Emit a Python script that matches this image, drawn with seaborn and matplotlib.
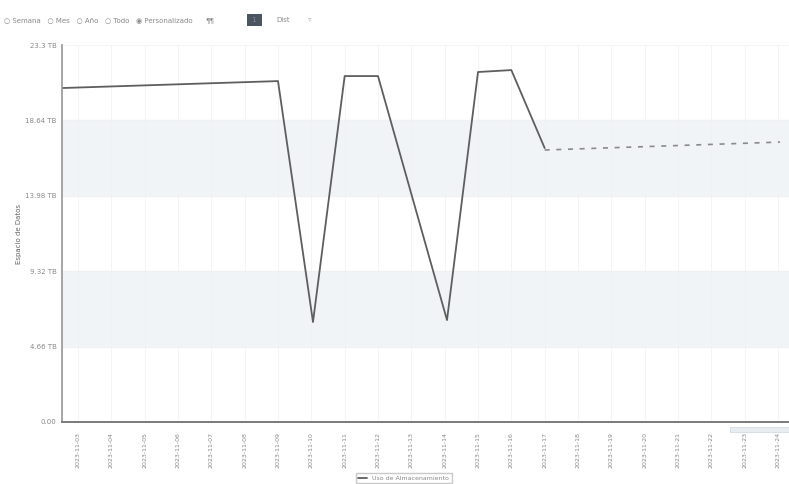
import numpy as np
import pandas as pd
import matplotlib
matplotlib.use("Agg")
import matplotlib.pyplot as plt
from matplotlib.patches import Rectangle
import seaborn as sns

# measured series (x in day index, y in TB)
solid_x = [-0.48, 6.0, 7.05, 8.0, 9.0, 11.07, 12.0, 13.0, 14.0]
solid_y = [20.64, 21.07, 6.18, 21.38, 21.38, 6.30, 21.63, 21.75, 16.93]
dashed_x = [14.0, 21.06]
dashed_y = [16.81, 17.30]

tick_labels = ["2023-11-03", "2023-11-04", "2023-11-05", "2023-11-06", "2023-11-07",
               "2023-11-08", "2023-11-09", "2023-11-10", "2023-11-11", "2023-11-12",
               "2023-11-13", "2023-11-14", "2023-11-15", "2023-11-16", "2023-11-17",
               "2023-11-18", "2023-11-19", "2023-11-20", "2023-11-21", "2023-11-22",
               "2023-11-23", "2023-11-24"]
y_ticks = [0.0, 4.66, 9.32, 13.98, 18.64, 23.3]
y_tick_labels = ["0.00", "4.66 TB", "9.32 TB", "13.98 TB", "18.64 TB", "23.3 TB"]

sns.set_theme(style="white")
plt.rcParams["font.family"] = ["DejaVu Sans"]

fig = plt.figure(figsize=(7.89, 4.84), dpi=100)
ax = fig.add_axes([62 / 789, 1 - 422 / 484, (789 - 62) / 789, (422 - 45) / 484])

solid = pd.DataFrame({"dia": solid_x, "uso": solid_y})
dashed = pd.DataFrame({"dia": dashed_x, "uso": dashed_y})

# alternating bands
ax.axhspan(y_ticks[3], y_ticks[4], color="#f0f4f6", zorder=0)
ax.axhspan(y_ticks[1], y_ticks[2], color="#f0f4f6", zorder=0)

sns.lineplot(data=solid, x="dia", y="uso", color="#5e5e5e", linewidth=1.3, ax=ax,
             label="Uso de Almacenamiento")
sns.lineplot(data=dashed, x="dia", y="uso", color="#8a8a8a", linewidth=1.2,
             linestyle=(0, (3, 4)), ax=ax)

ax.set_xlim(-0.48, 21.33)
ax.set_ylim(0, 23.3)
ax.set_xticks(range(len(tick_labels)))
ax.set_xticklabels(tick_labels, rotation=90, fontsize=4.5, color="#888888")
ax.set_yticks(y_ticks)
ax.set_yticklabels(y_tick_labels, fontsize=5, color="#888888")
ax.tick_params(axis="both", length=0, pad=4)
ax.tick_params(axis="x", pad=7)
ax.grid(True, color="#f0f0f0", linewidth=0.5)
ax.set_axisbelow(True)
for side in ["top", "right"]:
    ax.spines[side].set_visible(False)
ax.spines["left"].set_color("#9a9a9a")
ax.spines["bottom"].set_color("#7a7a7a")
ax.spines["bottom"].set_linewidth(1.4)
ax.set_xlabel("")
ax.set_ylabel("Espacio de Datos", fontsize=5, color="#666666")
ax.yaxis.set_label_coords(-40 / 727, 0.5)

ax.legend(loc="upper center", bbox_to_anchor=(0.47, -0.127), fontsize=4.5, frameon=True,
          edgecolor="#bbbbbb", fancybox=False, handlelength=1.5, labelcolor="#888888")

# scrollbar stub at lower right
fig.patches.append(Rectangle((730 / 789, 1 - 432 / 484), 59 / 789, 5 / 484,
                             transform=fig.transFigure, facecolor="#e6ecef",
                             edgecolor="#cfd6da", linewidth=0.5))

# top toolbar
fig.text(0.005, 1 - 20 / 484, "○ Semana   ○ Mes   ○ Año   ○ Todo   ◉ Personalizado",
         fontsize=5, color="#888888", va="center")
fig.text(205 / 789, 1 - 20 / 484, "¶¶", fontsize=5, color="#888888", va="center")
fig.text(250 / 789, 1 - 20 / 484, " 1 ", fontsize=5, color="#888888", va="center",
         bbox=dict(facecolor="#4a5560", edgecolor="none", pad=2))
fig.text(276 / 789, 1 - 20 / 484, "Dist", fontsize=5, color="#888888", va="center")
fig.text(308 / 789, 1 - 20 / 484, "▿", fontsize=5, color="#aaaaaa", va="center")

fig.savefig("out.png", dpi=100)
